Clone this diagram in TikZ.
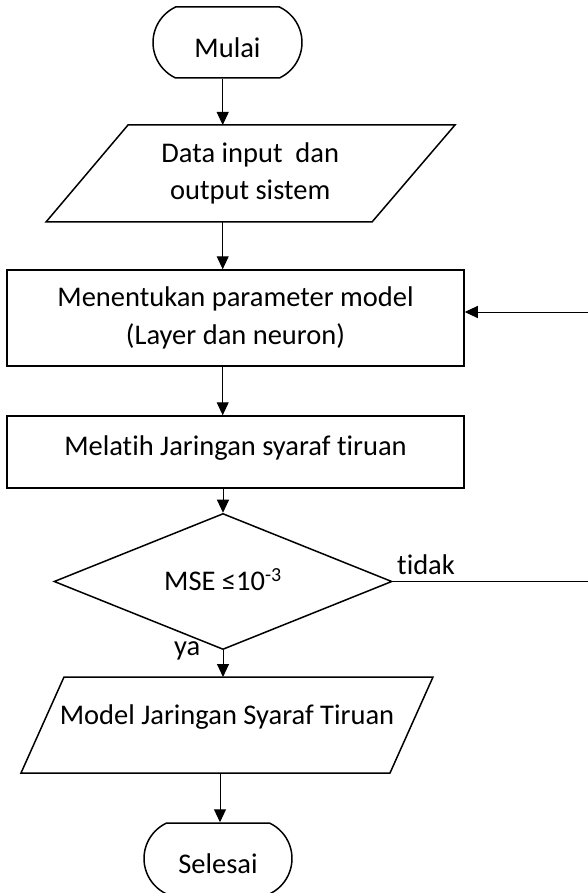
\documentclass[tikz,border=0pt]{standalone}
\usepackage{fontspec}
\setmainfont{Carlito}[RawFeature=-liga]
\usetikzlibrary{arrows.meta,shapes.geometric,shapes.misc}
\begin{document}
\begin{tikzpicture}[x=1pt,y=1pt,
  every node/.style={font=\fontsize{28.5}{37.5}\selectfont},
  shp/.style={draw, line width=1.5pt},
  arr/.style={line width=1pt, -{Triangle[length=13pt,width=12pt]}},
  ln/.style={line width=1pt},
  term/.style={shp, rounded rectangle, rounded rectangle arc length=130, minimum width=149pt, minimum height=71pt, inner sep=0pt, text height=29.4pt, text depth=0pt},
  box/.style={shp, rectangle, minimum width=457pt, inner sep=0pt, align=center}
]
\useasboundingbox (0,0) rectangle (588,-893);
\coordinate (ax) at (222.7,0);
\coordinate (ax2) at (220,0);
\coordinate (r1) at (588,-312);
\coordinate (r2) at (588,-582);
% shapes
\node[term] (mulai) at (227.5,-42.5) {Mulai};
\draw[shp] (128,-125) coordinate (p1tl) -- (455,-125) -- (372,-222) -- (46,-222) coordinate (p1bl) -- cycle;
\node[align=center, inner sep=0pt] (data) at (250.25,-173.5) {Data input\ \ dan\\output sistem};
\node[box, minimum height=96pt] (param) at (235.5,-318) {Menentukan parameter model\\(Layer dan neuron)};
\node[box, minimum height=72pt, text height=18.4pt, text depth=12pt] (latih) at (235.5,-452) {Melatih Jaringan syaraf tiruan};
\node[shp, diamond, minimum width=338pt, minimum height=119pt, inner sep=0pt, text height=18.4pt, text depth=0pt] (mse) at (223,-581.5) {MSE ≤10\textsuperscript{-3}};
\draw[shp] (64,-677) coordinate (p2tl) -- (433,-677) -- (390,-773) -- (21,-773) coordinate (p2bl) -- cycle;
\node[inner sep=0pt, text height=18.4pt, text depth=20pt] (model) at (227,-725) {Model Jaringan Syaraf Tiruan};
\node[term, minimum width=148pt] (selesai) at (218,-858.5) {Selesai};
% connectors
\draw[arr] (mulai.south -| ax) -- (p1tl -| ax);
\draw[arr] (p1bl -| ax) -- (param.north -| ax);
\draw[arr] (param.south -| ax) -- (latih.north -| ax);
\draw[arr] (latih.south -| mse.north) -- (mse.north);
\draw[arr] (mse.south) -- (p2tl -| mse.south);
\draw[arr] (p2bl -| ax2) -- (selesai.north -| ax2);
\draw[arr] (r1) -- (r1 -| param.east);
\draw[ln] (mse.east) -- (mse.east -| r2);
% labels
\node[anchor=base west, inner sep=0pt] (tidak) at (397,-574) {tidak};
\node[anchor=base east, inner sep=0pt] (ya) at (200.5,-655) {ya};
\end{tikzpicture}
\end{document}
